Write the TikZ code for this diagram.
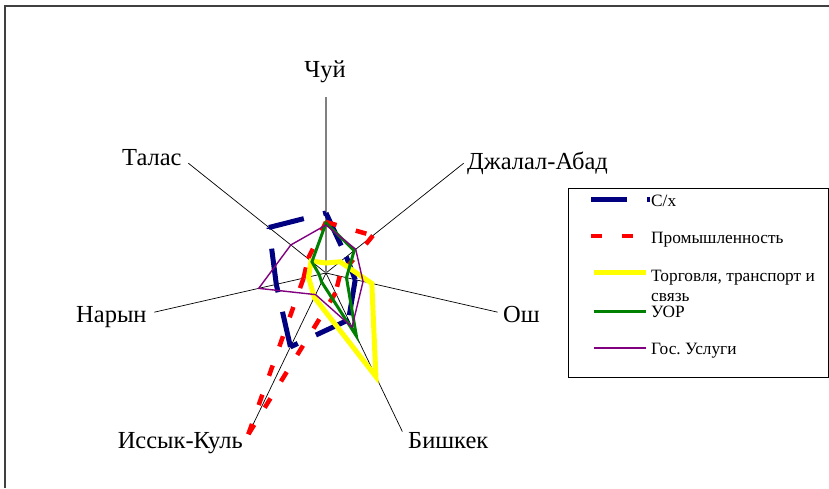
\documentclass[tikz,border=0pt]{standalone}
\usepackage{fontspec}
\setmainfont{Liberation Serif}
\frenchspacing
\definecolor{sxblue}{RGB}{0,0,128}
\definecolor{prred}{RGB}{255,0,0}
\definecolor{trylw}{RGB}{255,255,0}
\definecolor{uorgreen}{RGB}{0,128,0}
\definecolor{gospurple}{RGB}{128,0,128}
\definecolor{framegray}{RGB}{64,64,64}
\begin{document}
\begin{tikzpicture}[x=1pt,y=1pt,
  axisline/.style={line width=0.7pt,black},
  valaxis/.style={line width=1.1pt,gray},
  lbl/.style={font=\fontsize{24.5}{28}\selectfont, inner sep=0pt},
  legtext/.style={font=\fontsize{17.3}{20}\selectfont, inner sep=0pt, anchor=base west},
  sxline/.style={line width=5pt, sxblue, dash pattern=on 36pt off 20pt},
  prline/.style={line width=4.5pt, prred, dash pattern=on 11pt off 20pt},
  trline/.style={line width=5pt, trylw, line join=miter},
  uorline/.style={line width=3pt, uorgreen},
  gosline/.style={line width=1.4pt, gospurple}
]
\useasboundingbox (0,0) rectangle (829,488);
\fill[white] (0,0) rectangle (829,488);
% outer frame
\draw[framegray, line width=1.5pt] (5,0) -- (5,482) -- (829,482);

\def\aCh{90}
\def\aDj{38.571}
\def\aOs{-12.857}
\def\aBi{-64.286}
\def\aIs{-115.714}
\def\aNa{-167.143}
\def\aTa{141.429}

\begin{scope}[shift={(326,215)}]
  \coordinate (C) at (0,0);
  \coordinate (eCh) at (\aCh:176);
  \coordinate (eDj) at (\aDj:176);
  \coordinate (eOs) at (\aOs:176);
  \coordinate (eBi) at (\aBi:176);
  \coordinate (eIs) at (\aIs:176);
  \coordinate (eNa) at (\aNa:176);
  \coordinate (eTa) at (\aTa:176);
  \draw[axisline] (C) -- (eDj);
  \draw[axisline] (C) -- (eOs);
  \draw[axisline] (C) -- (eBi);
  \draw[axisline] (C) -- (eIs);
  \draw[axisline] (C) -- (eNa);
  \draw[axisline] (C) -- (eTa);
  \draw[valaxis] (C) -- (eCh);

  % С/х (dash pattern restarts on every segment)
  \foreach \a/\r/\b/\s in {\aCh/60/\aDj/26, \aDj/26/\aOs/30, \aOs/30/\aBi/52,
      \aBi/52/\aIs/82, \aIs/82/\aNa/51, \aNa/51/\aTa/73, \aTa/73/\aCh/60}
    \draw[sxline] (\a:\r) -- (\b:\s);
  % Промышленность
  \foreach \a/\r/\b/\s in {\aCh/51/\aDj/60, \aDj/60/\aOs/14, \aOs/14/\aBi/22,
      \aBi/22/\aIs/179, \aIs/179/\aNa/23, \aNa/23/\aTa/23, \aTa/23/\aCh/51}
    \draw[prline] (\a:\r) -- (\b:\s);
  % Торговля, транспорт и связь
  \draw[trline] (\aCh:10) -- (\aDj:18) -- (\aOs:47) -- (\aBi:115) -- (\aIs:27) -- (\aNa:18) -- (\aTa:19) -- cycle;
  % УОР
  \draw[uorline] (\aCh:50) -- (\aDj:36) -- (\aOs:21) -- (\aBi:70) -- (\aIs:10) -- (\aNa:7) -- (\aTa:18) -- cycle;
  % Гос. Услуги
  \draw[gosline] (\aCh:48) -- (\aDj:38) -- (\aOs:38) -- (\aBi:60) -- (\aIs:24) -- (\aNa:69) -- (\aTa:45) -- cycle;
\end{scope}

% axis labels
\node[lbl, anchor=base] (lCh) at (325,410.5) {Чуй};
\node[lbl, anchor=base west] (lDj) at (467,318) {Джалал-Абад};
\node[lbl, anchor=base west] (lOs) at (503,165.5) {Ош};
\node[lbl, anchor=base west] (lBi) at (408,40) {Бишкек};
\node[lbl, anchor=base east] (lIs) at (243,40) {Иссык-Куль};
\node[lbl, anchor=base west] (lNa) at (76,165.5) {Нарын};
\node[lbl, anchor=base west] (lTa) at (122,322) {Талас};

% legend
\draw[black, line width=0.8pt] (568,111) rectangle (828,300);
\draw[sxline] (591,289) -- (650,289);
\node[legtext] (tSx) at (651,281.5) {С/х};
\draw[prline] (591,252) -- (647,252);
\node[legtext] (tPr) at (651,244.7) {Промышленность};
\draw[trline] (594,216) -- (646,216);
\node[legtext] (tTr) at (651,206.3) {Торговля, транспорт и};
\node[legtext] (tTr2) at (651,186.3) {связь};
\draw[uorline] (594,177) -- (646,177);
\node[legtext] (tUor) at (651,170.3) {УОР};
\draw[gosline] (594,140) -- (646,140);
\node[legtext] (tGos) at (651,133.7) {Гос. Услуги};
\end{tikzpicture}
\end{document}
